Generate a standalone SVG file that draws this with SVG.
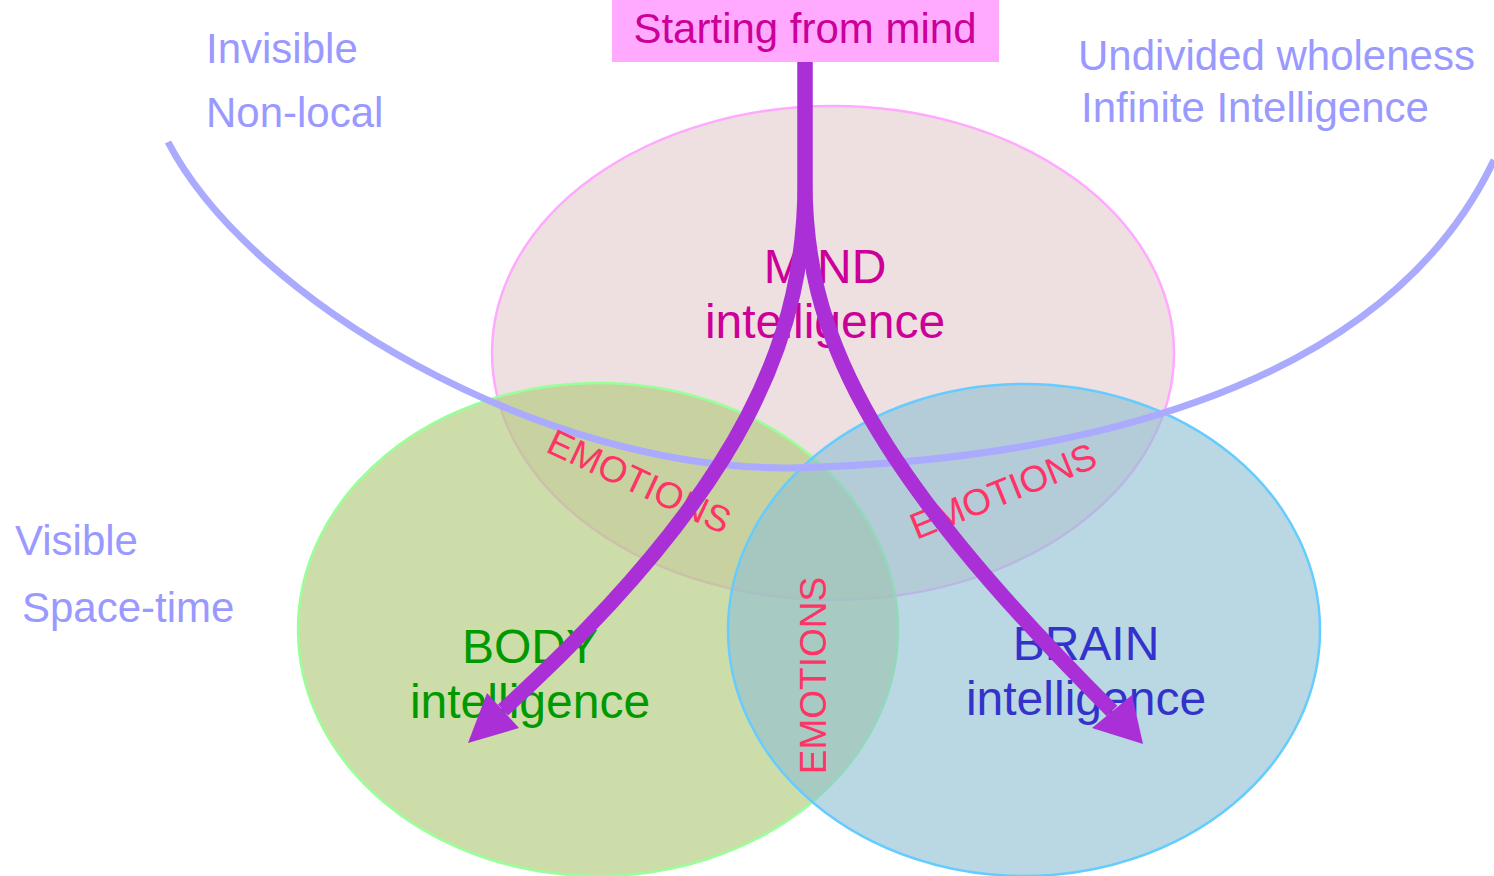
<svg xmlns="http://www.w3.org/2000/svg" width="1494" height="876" viewBox="0 0 1494 876">
<style>
  text { font-family: "Liberation Sans", Arial, sans-serif; }
  .side { fill: #9999ff; font-size: 42px; }
  .lbl { font-size: 48px; text-anchor: middle; }
  .emo { fill: #ff3366; font-size: 37px; text-anchor: middle; }
  .flow { fill: none; stroke: #aa2fd6; stroke-width: 15; stroke-linecap: butt; }
  .head { fill: #aa2fd6; }
</style>
<rect width="1494" height="876" fill="#ffffff"/>
<g id="node-mind">
  <ellipse cx="833" cy="353" rx="341" ry="247" fill="#eedfe0" stroke="#ffaaff" stroke-width="2.5"/>
  <text class="lbl" x="825" y="283" fill="#cc0099">MIND</text>
  <text class="lbl" x="825" y="338" fill="#cc0099">intelligence</text>
</g>
<g id="node-body">
  <ellipse cx="598" cy="629.5" rx="300" ry="246.5" fill="#b3cb7e" fill-opacity="0.66" stroke="#99ff99" stroke-width="2.5"/>
  <text class="lbl" x="530" y="663" fill="#009900">BODY</text>
  <text class="lbl" x="530" y="718" fill="#009900">intelligence</text>
</g>
<g id="node-brain">
  <ellipse cx="1024" cy="630" rx="296" ry="246" fill="#90c0d2" fill-opacity="0.62" stroke="#66ccff" stroke-width="2.5"/>
  <text class="lbl" x="1086" y="660" fill="#3333cc">BRAIN</text>
  <text class="lbl" x="1086" y="715" fill="#3333cc">intelligence</text>
</g>
<g id="boundary">
  <path d="M168,142 C250,300 540,470 790,468 C1050,462 1380,400 1494,160" fill="none" stroke="#aaaaff" stroke-width="7"/>
  <text class="side" x="206" y="63">Invisible</text>
  <text class="side" x="206" y="127">Non-local</text>
  <text class="side" x="1078" y="70">Undivided wholeness</text>
  <text class="side" x="1081" y="122">Infinite Intelligence</text>
  <text class="side" x="15" y="555">Visible</text>
  <text class="side" x="22" y="622">Space-time</text>
</g>
<g id="emotions">
  <text class="emo" transform="translate(634,493) rotate(25)">EMOTIONS</text>
  <text class="emo" transform="translate(1008,503) rotate(-22)">EMOTIONS</text>
  <text class="emo" transform="translate(826,675.5) rotate(-90)">EMOTIONS</text>
</g>
<g id="node-start">
  <rect x="612" y="0" width="387" height="62" fill="#ffaaff"/>
  <text x="805" y="43" fill="#cc0099" font-size="42" text-anchor="middle">Starting from mind</text>
</g>
<g id="connectors">
  <path class="flow" d="M805,62 L805,180 C805,330 753,482 503,710"/>
  <polygon class="head" points="468,743 487,693 519,728"/>
  <path class="flow" d="M805,62 L805,180 C805,330 862,461 1112,711"/>
  <polygon class="head" points="1143,744 1092,728 1132,695"/>
</g>
</svg>
